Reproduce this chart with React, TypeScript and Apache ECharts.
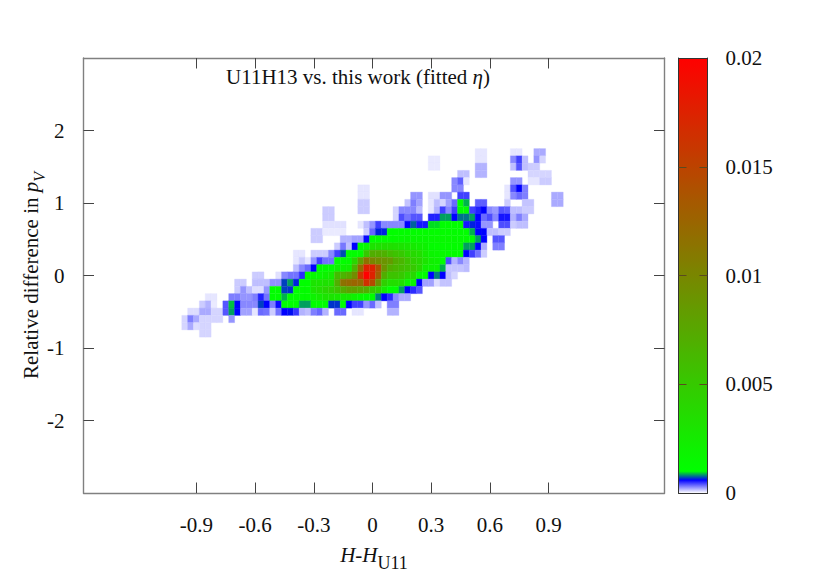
import React, { useEffect, useRef } from "react";
import * as echarts from "echarts";

// Histogram cells, in units of 1e-5. Each row: [first column, values...] runs; column c is centred on x = 0.03 * c.
type Run = [number, number[]];
const row_p17: Run[] = [[18, [6, 6]], [24, [6, 6]], [28, [20, 20]]];
const row_p16: Run[] = [[10, [5, 5]], [18, [6, 6]], [24, [28, 45, 15]], [28, [25, 10]]];
const row_p15: Run[] = [[10, [5, 5]], [18, [18, 18]], [24, [15, 40, 15, 12, 12]]];
const row_p14: Run[] = [[15, [15, 15]], [18, [18, 18]], [27, [10, 10, 10, 10]]];
const row_p13: Run[] = [[14, [28, 38, 6]], [24, [25, 25]], [27, [6, 6, 12, 12]]];
const row_p12: Run[] = [[-2, [6, 6]], [14, [28, 28]], [23, [6, 40, 60, 30]]];
const row_p11: Run[] = [[-2, [6, 6]], [7, [25, 25]], [10, [7, 7, 25, 25]], [15, [45, 45]], [23, [6, 28, 35, 30]], [31, [20, 20]]];
const row_p10: Run[] = [[-2, [12, 12]], [6, [14, 30, 22]], [10, [6, 15, 10, 22, 35, 100, 88]], [18, [38, 38]], [23, [12]], [26, [14, 14]], [31, [20, 20]]];
const row_p09: Run[] = [[-8, [12, 12]], [-2, [12, 12]], [4, [10, 28, 28, 28, 16]], [10, [6, 18, 45, 28, 45, 105, 105, 45, 52, 60, 28, 24, 40, 38, 15, 15, 12, 12]]];
const row_p08: Run[] = [[-8, [12, 12]], [4, [10, 42, 33, 40, 40]], [10, [52, 52, 85, 85, 60, 78, 78, 85, 60, 35, 42, 28, 55, 55, 18, 30, 20]]];
const row_p07: Run[] = [[-8, [7, 7, 7, 7]], [-2, [6, 15, 25, 45, 28, 28, 28, 28, 60, 75, 55, 55, 95, 95, 105, 105, 105, 105, 55, 65, 58, 25, 25]], [22, [42, 42, 12, 15, 15]]];
const row_p06: Run[] = [[-10, [12, 12, 5, 5, 5, 5]], [-1, [12, 36, 65, 65, 105, 110, 115, 120, 120, 125, 125, 125, 125, 125, 125, 120, 115, 110, 88, 60, 60, 15, 15, 12, 12]]];
const row_p05: Run[] = [[-10, [12, 12]], [-5, [18, 18, 22, 22, 58]], [0, [105, 115, 125, 130, 140, 150, 160, 160, 160, 155, 150, 150, 150, 150, 140, 130, 120, 105, 85, 60]], [21, [40, 40]]];
const row_p04: Run[] = [[-6, [12, 32, 15, 60, 105, 150]], [0, [300, 320, 340, 340, 320, 300, 280, 260, 220, 200, 130, 125, 125, 125, 120, 120, 85, 85, 60, 20]], [21, [30, 30]]];
const row_p03: Run[] = [[-13, [6, 6]], [-10, [12, 12, 12, 28, 45, 72, 105, 110, 120, 500]], [0, [700, 720, 680, 600, 550, 500, 420, 380, 350, 250, 180, 170, 150, 140, 120, 110, 60, 45, 33, 12]]];
const row_p02: Run[] = [[-13, [6, 12, 6, 25, 45, 33, 33, 110, 110, 130, 400, 800, 1150]], [0, [1000, 950, 900, 850, 700, 650, 550, 450, 400, 300, 220, 200, 105, 42, 18, 28, 18]]];
const row_p01: Run[] = [[-13, [15, 28, 35, 60, 105, 105, 105, 200, 200, 220, 650, 1200, 1750]], [0, [1750, 1400, 900, 700, 650, 600, 550, 500, 400, 220, 200, 180, 88, 14, 14, 14, 16]]];
const row_0: Run[] = [[-20, [12, 12]], [-16, [7, 28, 33, 33, 50, 105, 150, 150, 200, 250, 600, 650, 750, 950, 1600, 2000]], [0, [1750, 1300, 700, 550, 550, 500, 400, 380, 150, 110, 60, 80, 60, 15, 10]]];
const row_m01: Run[] = [[-23, [12, 12]], [-20, [15, 15, 15, 26, 26, 70, 85, 65, 105, 105, 300, 300, 320, 320, 700, 1150, 1200, 1250, 1200, 1650]], [0, [1450, 900, 450, 350, 350, 330, 180, 180, 60, 22, 22, 8, 14, 14]]];
const row_m02: Run[] = [[-23, [12, 25, 15, 8, 8, 25, 105, 105, 70, 68, 105, 120, 120, 300, 350, 400, 450, 550, 700, 800, 800, 750, 700]], [0, [500, 450, 250, 110, 110, 85, 60, 50, 40]]];
const row_m03: Run[] = [[-28, [6, 6]], [-24, [30, 30, 25, 25, 30, 52, 33, 105, 105, 88, 105, 105, 120, 130, 200, 250, 300, 300, 280, 260, 250, 200, 150, 115]], [0, [105, 80, 60, 50, 28, 20, 20]]];
const row_m04: Run[] = [[-29, [12, 18, 5]], [-25, [40, 90, 60, 28, 28, 28, 70, 60, 30, 58, 105, 105, 105, 85, 85, 105, 105, 105, 68, 68, 100, 60, 45, 45, 25, 35, 15]], [3, [30, 30]]];
const row_m05: Run[] = [[-31, [8, 8, 20, 20, 10, 10, 40, 85, 60, 22, 22, 6, 35, 33, 12, 33, 60, 62, 47, 18, 15, 30, 35, 18]], [-6, [35, 35]], [-3, [6, 6]], [3, [18, 18]]];
const row_m06: Run[] = [[-32, [10, 30, 20, 10, 10, 10, 10]], [-24, [25]]];
const row_m07: Run[] = [[-32, [10, 20, 8, 10, 10]]];
const row_m08: Run[] = [[-29, [10, 10]]];

const rowsByBin: [number, Run[]][] = [
  [17, row_p17], [16, row_p16], [15, row_p15], [14, row_p14], [13, row_p13], [12, row_p12],
  [11, row_p11], [10, row_p10], [9, row_p09], [8, row_p08], [7, row_p07], [6, row_p06],
  [5, row_p05], [4, row_p04], [3, row_p03], [2, row_p02], [1, row_p01], [0, row_0],
  [-1, row_m01], [-2, row_m02], [-3, row_m03], [-4, row_m04], [-5, row_m05], [-6, row_m06],
  [-7, row_m07], [-8, row_m08],
];

const xTicks = [-0.9, -0.6, -0.3, 0, 0.3, 0.6, 0.9];
const yTicks = [-2, -1, 0, 1, 2];
const barTicks = [0.005, 0.01, 0.015];
const barLabels = [0, 0.005, 0.01, 0.015, 0.02];

const cells: number[][] = [];
for (const [k, runs] of rowsByBin) {
  for (const [start, vals] of runs) {
    vals.forEach((v, i) => cells.push([0.03 * (start + i), k / 10, v * 1e-5]));
  }
}

const hex2 = (n: number) => Math.round(n).toString(16).padStart(2, "0");
const paletteAt = (t: number) => {
  if (t <= 0.03) { const s = 1 - t / 0.03; return "#" + hex2(255 * s) + hex2(255 * s) + "ff"; }
  if (t <= 0.05) { const s = (t - 0.03) / 0.02; return "#00" + hex2(255 * s) + hex2(255 * (1 - s)); }
  const s = (t - 0.05) / 0.95;
  return "#" + hex2(255 * s) + hex2(255 * (1 - s)) + "00";
};
const stops = Array.from({ length: 101 }, (_, i) => paletteAt(i / 100));

const FONT = "Liberation Serif";
const LINE = "#808080";
const TICK = "#444444";
const SIZE = 21;
const LBL = { fontFamily: FONT, fontSize: SIZE, color: "#111" };

export default function App() {
  const ref = useRef<HTMLDivElement>(null);
  useEffect(() => {
    const chart = echarts.init(ref.current!, null, { renderer: "svg" });
    const boxAxis = { axisLine: { onZero: false, lineStyle: { color: LINE, width: 1.4 } }, splitLine: { show: false } };
    chart.setOption({
      animation: false,
      backgroundColor: "#fff",
      title: {
        text: "{a|U11H13 vs. this work (fitted }{i|η}{a|)}",
        left: 226, top: 66, padding: 0,
        textStyle: {
          fontWeight: "normal",
          rich: {
            a: { fontFamily: FONT, fontSize: SIZE, fontWeight: "normal", color: "#111" },
            i: { fontFamily: FONT, fontSize: SIZE, fontWeight: "normal", fontStyle: "italic", color: "#111" },
          },
        },
      },
      grid: [
        { left: 83.5, top: 58, width: 581, height: 435 },
        { left: 678.5, top: 58, width: 29, height: 435 },
      ],
      xAxis: [
        {
          type: "value", gridIndex: 0, position: "bottom", min: -1.4775, max: 1.493, ...boxAxis,
          axisTick: { inside: true, length: 10.5, customValues: xTicks, lineStyle: { color: TICK } },
          axisLabel: { ...LBL, margin: 21, customValues: xTicks, formatter: (v: number) => String(v) },
          name: "{i|H}{r|-}{i|H}{s|U11}", nameLocation: "center", nameGap: 51, nameMoveOverlap: false,
          nameTextStyle: {
            rich: {
              i: { fontFamily: FONT, fontSize: SIZE, fontStyle: "italic", color: "#111", verticalAlign: "bottom", padding: [0, 0, 7, 0] },
              r: { fontFamily: FONT, fontSize: SIZE, color: "#111", verticalAlign: "bottom", padding: [0, 0, 7, 0] },
              s: { fontFamily: FONT, fontSize: 18, color: "#111", verticalAlign: "bottom" },
            },
          },
        },
        {
          type: "value", gridIndex: 0, position: "top", min: -1.4775, max: 1.493, ...boxAxis,
          axisTick: { inside: true, length: 10.5, customValues: xTicks, lineStyle: { color: TICK } },
          axisLabel: { show: false },
        },
        { type: "value", gridIndex: 1, position: "bottom", min: 0, max: 1, z: 10, axisLine: { onZero: false, lineStyle: { color: "#333" } }, axisTick: { show: false }, axisLabel: { show: false }, splitLine: { show: false } },
        { type: "value", gridIndex: 1, position: "top", min: 0, max: 1, z: 10, axisLine: { onZero: false, lineStyle: { color: "#333" } }, axisTick: { show: false }, axisLabel: { show: false }, splitLine: { show: false } },
      ],
      yAxis: [
        {
          type: "value", gridIndex: 0, position: "left", min: -3, max: 3, ...boxAxis,
          axisTick: { inside: true, length: 10.5, customValues: yTicks, lineStyle: { color: TICK } },
          axisLabel: { ...LBL, margin: 19, customValues: yTicks, formatter: (v: number) => String(v) },
          name: "{a|Relative difference in }{i|p}{s|V}", nameLocation: "center", nameGap: 36, nameMoveOverlap: false,
          nameTextStyle: {
            rich: {
              a: { fontFamily: FONT, fontSize: SIZE, color: "#111", verticalAlign: "bottom", padding: [0, 0, 6, 0] },
              i: { fontFamily: FONT, fontSize: SIZE, fontStyle: "italic", color: "#111", verticalAlign: "bottom", padding: [0, 0, 6, 0] },
              s: { fontFamily: FONT, fontSize: 16, fontStyle: "italic", color: "#111", verticalAlign: "bottom" },
            },
          },
        },
        {
          type: "value", gridIndex: 0, position: "right", min: -3, max: 3, ...boxAxis,
          axisTick: { inside: true, length: 10.5, customValues: yTicks, lineStyle: { color: TICK } },
          axisLabel: { show: false },
        },
        {
          type: "value", gridIndex: 1, position: "left", min: 0, max: 0.02, z: 10,
          axisLine: { onZero: false, lineStyle: { color: "#333" } },
          axisTick: { inside: true, length: 8, customValues: barTicks, lineStyle: { color: "#5a4a20" } },
          axisLabel: { show: false }, splitLine: { show: false },
        },
        {
          type: "value", gridIndex: 1, position: "right", min: 0, max: 0.02, z: 10,
          axisLine: { onZero: false, lineStyle: { color: "#333" } },
          axisTick: { inside: true, length: 8, customValues: barTicks, lineStyle: { color: "#5a4a20" } },
          axisLabel: { ...LBL, margin: 18, customValues: barLabels, formatter: (v: number) => String(v) },
          splitLine: { show: false },
        },
      ],
      visualMap: {
        type: "continuous", seriesIndex: 0, dimension: 2, min: 0, max: 0.02,
        left: 678.5, top: 58, itemWidth: 29, itemHeight: 435, padding: 0,
        showLabel: false, calculable: false, hoverLink: false, align: "left",
        inRange: { color: stops },
      },
      series: [
        {
          type: "custom", xAxisIndex: 0, yAxisIndex: 0, data: cells, encode: { x: 0, y: 1 },
          dimensions: ["x", "y", "v"],
          renderItem: (_p: any, api: any) => {
            const x = api.value(0), y = api.value(1);
            const a = api.coord([x - 0.015, y + 0.05]);
            const b = api.coord([x + 0.015, y - 0.05]);
            const c = api.visual("color");
            return {
              type: "rect",
              shape: { x: a[0], y: a[1], width: b[0] - a[0], height: b[1] - a[1] },
              style: { fill: c, stroke: c, lineWidth: 0.35 },
            };
          },
        },
      ],
    });
    return () => chart.dispose();
  }, []);
  return <div ref={ref} style={{ position: "fixed", left: 0, top: 0, width: 830, height: 581 }} />;
}
